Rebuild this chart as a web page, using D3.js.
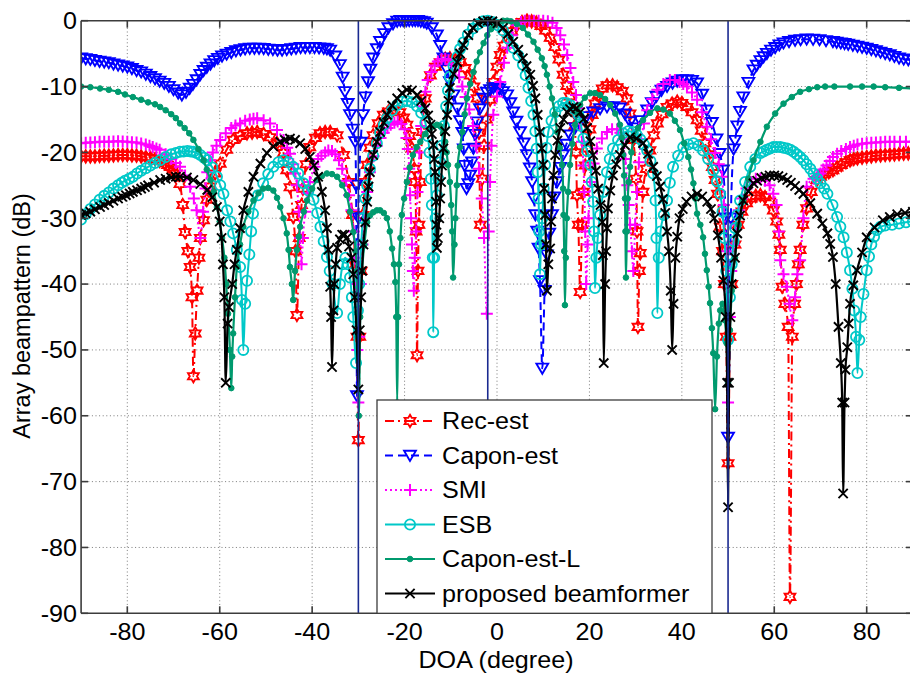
<!DOCTYPE html>
<html><head><meta charset="utf-8">
<script src="https://cdn.jsdelivr.net/npm/d3@7"></script>
<style>body{margin:0;background:#fff}svg{display:block}text{font-family:"Liberation Sans",Arial,sans-serif;fill:#000}</style>
</head><body><svg id="c" width="910" height="677"></svg>
<script>
const xTicks=[-80,-60,-40,-20,0,20,40,60,80];
const yTicks=[0,-10,-20,-30,-40,-50,-60,-70,-80,-90];
const nullLines=[-30,-2,50];
const legendNames=["Rec-est","Capon-est","SMI","ESB","Capon-est-L","proposed beamformer"];

const recEst=[[-90,-20.6],[-89,-20.6],[-88,-20.6],[-87,-20.6],[-86,-20.55],[-85,-20.5],[-84,-20.5],[-83,-20.45],[-82,-20.4],[-81,-20.4],[-80,-20.4],[-79,-20.45],[-78,-20.5],[-77,-20.6],[-76,-20.7],[-75,-20.85],[-74,-21],[-73,-21.3],[-72,-21.6],[-71.3,-21.9],[-70.7,-22.2],[-70.1,-22.6],[-69.5,-23.2],[-68.6,-24.8],[-68,-28],[-67.5,-32.1],[-66.9,-35],[-66.4,-37.4],[-66,-42],[-65.7,-54],[-65.3,-47.5],[-64.9,-41],[-64.5,-36],[-64.2,-33],[-63.5,-30.3],[-62.8,-27.2],[-62,-25.2],[-61,-23.2],[-59.9,-21.7],[-58.5,-19.6],[-57.1,-18.1],[-55.6,-17.5],[-54.1,-17.1],[-53,-17],[-51.9,-16.9],[-50.5,-17.2],[-49.1,-17.7],[-47.6,-18.6],[-46.2,-20.1],[-45.5,-22.7],[-44.8,-25.3],[-44.1,-29.8],[-43.6,-35],[-43.3,-44.7],[-42.8,-33],[-42.3,-28],[-42,-25.5],[-41.3,-21.8],[-40.5,-19.2],[-39.3,-17.8],[-38.3,-17.1],[-37.2,-16.9],[-36.1,-16.9],[-34.6,-17.4],[-33.2,-20.4],[-32.1,-24.5],[-31.3,-29.5],[-30.7,-37.1],[-30.3,-48],[-30,-63.7],[-29.7,-48],[-29.4,-38],[-29,-29.5],[-28.5,-24.5],[-28.1,-21.9],[-27.5,-19.3],[-26.8,-17.4],[-25.7,-15.6],[-24.6,-14.3],[-23.5,-13.8],[-22.5,-13.6],[-21,-13.9],[-20.2,-14.7],[-19.5,-15.8],[-18.9,-17.5],[-18.4,-19.4],[-17.9,-22.5],[-17.7,-24.5],[-17.5,-32],[-17.3,-50.8],[-17.1,-38],[-16.9,-31],[-16.6,-24.5],[-16.2,-16.9],[-15.5,-11.8],[-14.4,-8.3],[-13.3,-7],[-12.3,-6.3],[-11.2,-5.8],[-10.2,-5.7],[-9.1,-5.9],[-8,-6.3],[-6.9,-7.2],[-5.8,-8.3],[-5,-10],[-4.3,-11.8],[-3.9,-17],[-3.6,-31],[-3.2,-24],[-2.8,-19],[-2.3,-15],[-1.5,-12],[-0.8,-9.3],[0,-7],[0.7,-5.2],[1.5,-3.8],[2.2,-2.7],[3.2,-1.6],[4.3,-0.7],[5.4,-0.2],[6.5,0],[7.5,-0.1],[8.5,-0.3],[9.5,-0.8],[10.5,-1.5],[11.5,-2.6],[12.5,-4],[13.4,-5.9],[14.3,-8.2],[15.1,-9.9],[15.8,-11.5],[16.4,-13.6],[16.8,-16],[17.1,-20],[17.3,-26.5],[17.6,-31],[18,-41.2],[18.4,-31],[18.7,-26],[19.1,-22],[19.5,-19.4],[20.1,-16.5],[20.6,-14.3],[21.2,-12.6],[21.9,-11.3],[22.8,-10.3],[23.8,-9.8],[25,-9.8],[26,-10.1],[27.1,-10.7],[28.1,-11.8],[28.8,-14.1],[29.5,-18.1],[30.1,-24],[30.3,-32],[30.5,-46.5],[30.8,-38],[31,-35.3],[31.6,-26],[32.3,-22.5],[33.1,-19.7],[33.9,-17.4],[34.7,-15.6],[35.7,-14.2],[36.8,-13.1],[37.9,-12.6],[39,-12.3],[40,-12.5],[41.1,-13.1],[42.2,-13.9],[43.3,-15.1],[44.2,-16.7],[45,-18.6],[45.8,-20.3],[46.6,-22.2],[47.2,-24.2],[47.7,-26.3],[48.3,-31.3],[48.8,-35],[49.2,-40],[49.6,-48],[50,-67.2],[50.4,-48],[50.8,-40],[51.5,-34],[52.2,-31],[53,-29],[54,-27.7],[55,-27],[56,-26.6],[57,-26.5],[58,-26.8],[59,-27.5],[59.8,-28.8],[60.5,-30.5],[61,-32.5],[61.3,-34.8],[61.7,-40.4],[62.3,-43],[63,-46.5],[63.4,-87.5],[63.9,-48],[64.4,-43],[64.8,-40],[65.2,-37],[65.6,-34.8],[66.2,-31],[67,-28.5],[68,-26],[69.2,-24.2],[70,-23.7],[70.9,-23.3],[71.8,-23],[72.7,-22.7],[73.6,-22.3],[74.5,-21.9],[75.5,-21.5],[76.4,-21.2],[77.2,-21],[78,-20.9],[79,-20.8],[80,-20.7],[81,-20.6],[82,-20.5],[83,-20.45],[84,-20.4],[85,-20.35],[86,-20.3],[87,-20.25],[88,-20.2],[89,-20.15],[90,-20.1]];

const caponEst=[[-90,-5.7],[-89,-5.8],[-88,-5.9],[-87,-6.05],[-86,-6.2],[-85,-6.3],[-84,-6.4],[-83,-6.6],[-82,-6.75],[-81,-6.9],[-80,-7.05],[-79,-7.3],[-78,-7.6],[-77,-7.8],[-76,-8.15],[-75,-8.5],[-74,-8.85],[-73,-9.2],[-72,-9.55],[-71,-10],[-70,-10.5],[-69,-11],[-68.2,-11.3],[-67.3,-10.9],[-66.5,-10.3],[-65.8,-9.7],[-65,-9],[-64.2,-8.2],[-63.5,-7.6],[-62.8,-7.1],[-62,-6.6],[-61.2,-6.1],[-60.4,-5.75],[-59.5,-5.4],[-58.5,-5.1],[-57.5,-4.85],[-56.5,-4.6],[-55.5,-4.45],[-54.5,-4.3],[-53.5,-4.2],[-52.5,-4.2],[-51.5,-4.2],[-50.5,-4.25],[-49.5,-4.35],[-48.5,-4.4],[-47.5,-4.5],[-46.5,-4.5],[-45.5,-4.4],[-44.5,-4.3],[-43.5,-4.2],[-42.5,-4.1],[-41.5,-4.1],[-40.5,-4.1],[-39.5,-4.1],[-38.5,-4.15],[-37.5,-4.2],[-36.8,-4.3],[-36.1,-4.5],[-35,-5.4],[-34,-6.7],[-33.4,-8.6],[-32.9,-10.8],[-32.3,-12.6],[-31.8,-14.3],[-31.2,-16.5],[-30.7,-18.4],[-30.5,-25],[-30.3,-57],[-30,-30],[-29.5,-18.5],[-29,-14.3],[-28.5,-11.6],[-27.9,-9.3],[-27.4,-7.4],[-26.8,-5.7],[-26,-4.3],[-25.3,-3.2],[-24.4,-2],[-23.5,-1.1],[-22.5,-0.5],[-21.6,-0.1],[-20.9,0],[-20.3,0],[-19.6,0],[-19,0],[-18.3,0],[-17.7,0],[-17.1,0],[-16.5,-0.1],[-15.8,-0.2],[-15.2,-0.4],[-14.1,-1.1],[-13,-2.2],[-12.3,-3.8],[-11.6,-5.7],[-10.9,-7.4],[-10.2,-9.3],[-9.4,-11.3],[-8.6,-13.3],[-8,-15.2],[-7.5,-17],[-7.2,-19.5],[-7,-22],[-6.6,-25.5],[-6.2,-24.8],[-5.8,-23.5],[-5.4,-21.5],[-5.1,-19.4],[-4.7,-17.3],[-4.3,-15.4],[-3.7,-13.4],[-3,-11.8],[-2.2,-10.9],[-1.5,-10.5],[-0.8,-10.2],[0,-10.2],[0.5,-10.4],[1.3,-10.8],[2.2,-11.3],[2.9,-12.5],[3.5,-13.9],[4.2,-15.3],[5,-16.9],[5.8,-18.6],[6.5,-20.4],[7.1,-22.4],[7.6,-24.5],[8,-27],[8.3,-29.5],[8.7,-32],[9,-34.6],[9.3,-39.5],[9.8,-52.8],[10.3,-41],[10.8,-35.6],[11.3,-32.3],[11.9,-29.5],[12.4,-26.8],[13,-24.5],[13.7,-22.3],[14.3,-20.4],[15,-18.8],[15.8,-17.4],[16.9,-16.3],[18,-15.4],[19.4,-14.6],[20.8,-13.9],[22.3,-13.4],[23.8,-13.1],[25.2,-13.1],[26.6,-13.3],[27.7,-14.2],[28.8,-15.4],[29.9,-16.3],[31,-15.2],[32.5,-13.6],[33.5,-12.5],[34.5,-11.5],[35.6,-10.6],[36.8,-10],[38,-9.5],[39,-9.2],[40,-9],[41.1,-9],[42.2,-9.1],[43.3,-9.5],[44.4,-11.2],[45.4,-13.6],[46.5,-15.5],[47.5,-18],[48.2,-20.2],[48.9,-22.7],[49.5,-30],[50,-63.3],[50.6,-30],[51.2,-19.5],[51.5,-18.2],[52,-16],[52.6,-13.8],[53.3,-11.6],[54.4,-9.4],[55.5,-7.5],[56.2,-6.8],[57,-6.1],[57.7,-5.5],[58.4,-5],[59.3,-4.5],[60.2,-4.1],[61.1,-3.7],[62,-3.4],[63.2,-3.2],[64.5,-3],[65.7,-2.9],[67,-2.8],[68.4,-2.85],[69.8,-2.9],[71.2,-3.05],[72.7,-3.2],[73.5,-3.3],[74.4,-3.4],[75.2,-3.5],[76,-3.6],[77,-3.75],[78,-3.9],[79,-4.05],[80,-4.2],[81,-4.4],[82,-4.6],[83,-4.8],[84,-5],[85,-5.2],[86,-5.45],[87,-5.7],[88,-5.85],[89,-5.95],[90,-6]];

const smi=[[-90,-18.6],[-89,-18.55],[-88,-18.5],[-87,-18.45],[-86,-18.4],[-85,-18.4],[-84,-18.4],[-83,-18.35],[-82,-18.3],[-81,-18.35],[-80,-18.4],[-79,-18.45],[-78,-18.5],[-77,-18.65],[-76,-18.8],[-75.2,-19],[-74.5,-19.2],[-73.7,-19.4],[-73,-19.6],[-71.7,-20.3],[-70.5,-21],[-69.5,-21.6],[-68.6,-22.2],[-67.5,-23.5],[-66.4,-25.2],[-65.6,-27],[-65,-28.8],[-64.2,-33],[-63.6,-29],[-63.1,-25.5],[-62.7,-23],[-62.1,-21.2],[-61.5,-20],[-60.7,-19],[-59.9,-18.1],[-58.7,-17.1],[-57.5,-16.3],[-56.6,-15.9],[-55.6,-15.6],[-54.5,-15.2],[-53.5,-15],[-52.7,-14.9],[-51.9,-14.8],[-50.5,-15.1],[-49.1,-15.6],[-47.6,-16.6],[-46.2,-18.1],[-45.4,-19.3],[-44.8,-20.2],[-44.1,-21.8],[-43.7,-23.2],[-43.3,-25],[-42.9,-29],[-42.6,-33],[-42.3,-37],[-42,-33],[-41.5,-29],[-41,-26.2],[-40.5,-24.5],[-39.5,-22.2],[-38.7,-21],[-38,-20.5],[-37.2,-20],[-36.5,-19.7],[-35.7,-19.8],[-35,-20.3],[-34.2,-21.2],[-33.5,-22.5],[-32.7,-24.3],[-32,-26.5],[-31.5,-28.8],[-31,-32],[-30.7,-36],[-30.5,-40],[-30.2,-50],[-30,-58],[-29.8,-48],[-29.5,-40],[-29.1,-34],[-28.7,-30],[-28.1,-26],[-27.5,-23],[-26.7,-20.6],[-26,-19],[-25.2,-17.8],[-24.5,-17],[-23.7,-16.3],[-23,-15.8],[-22.2,-15.5],[-21.5,-15.3],[-20.7,-15.7],[-20,-16.5],[-19.6,-17.8],[-19.3,-19.5],[-19,-22.5],[-18.8,-26.5],[-18.6,-30],[-18.4,-34],[-18.2,-38],[-18,-41],[-17.8,-36],[-17.5,-32],[-17.2,-26],[-16.8,-20],[-16.4,-16],[-16,-13],[-15.5,-10.8],[-15,-9],[-14.2,-7.8],[-13.5,-6.8],[-12.8,-6.2],[-12,-5.8],[-11.2,-5.8],[-10.5,-6],[-9.8,-6.6],[-9,-7.5],[-8.2,-8.6],[-7.5,-10],[-6.8,-11.6],[-6,-13.5],[-5.2,-16],[-4.5,-19],[-3.9,-22.5],[-3.3,-27],[-2.8,-33],[-2.2,-44.5],[-1.8,-32],[-1.5,-24.5],[-1.2,-19],[-0.8,-14.3],[0,-11.5],[0.7,-9.3],[1.5,-6.4],[2.2,-4.1],[3.2,-2.2],[4.3,-0.7],[5.2,-0.2],[6,0],[7,0],[8,0],[9,0],[10,0],[11,-0.1],[12,-0.3],[12.9,-1.1],[13.7,-2.2],[14.5,-3.6],[15.2,-5.2],[15.9,-7.2],[16.5,-9.3],[17.1,-11.3],[17.6,-13.3],[18,-15.7],[18.4,-18.4],[18.7,-22],[18.9,-26],[19.1,-32],[19.3,-40],[19.6,-34],[19.8,-30],[20.2,-24.5],[20.9,-21.7],[21.6,-19.4],[22.7,-17.9],[23.8,-16.9],[24.9,-16.5],[26,-16.5],[26.7,-17],[27.3,-18],[27.8,-21],[28.2,-25],[28.5,-28],[28.8,-31],[29.2,-35],[29.5,-38],[29.9,-31],[30.3,-26],[30.7,-21.5],[31.2,-18],[31.8,-15.6],[32.5,-13.6],[33.6,-11.9],[34.7,-10.5],[36,-9.6],[37.4,-9],[38.5,-9],[39.5,-9.3],[40.3,-9.6],[41.1,-10],[42.2,-10.9],[43.3,-12],[44.4,-13.9],[45.4,-16.1],[46.3,-18],[47.2,-20.1],[48,-21.8],[48.7,-23.7],[49.1,-28],[49.5,-35],[50,-58],[50.4,-45],[50.7,-38],[51.2,-34],[51.7,-31],[52.3,-28.8],[53,-27],[54,-25.5],[55,-24.5],[56,-24],[57,-24],[58,-24.3],[59,-25],[59.8,-26.3],[60.5,-28],[61,-32],[61.3,-36.4],[62,-38.5],[62.7,-40.4],[63.3,-43],[63.9,-45.5],[64.5,-42],[65,-38.5],[65.6,-36.4],[66.3,-30],[67,-25.2],[68.5,-24],[69.3,-23.6],[70,-23.2],[70.6,-22.6],[71.3,-22],[72,-21.3],[72.7,-20.7],[73.6,-20.2],[74.5,-19.8],[75.5,-19.5],[76.4,-19.2],[77.2,-19],[78,-18.8],[79,-18.7],[80,-18.6],[81,-18.55],[82,-18.5],[83,-18.45],[84,-18.4],[85,-18.4],[86,-18.4],[87.2,-18.4],[88.5,-18.4],[90,-18.4]];

const esb=[[-90,-30.2],[-89,-29.4],[-88,-28.6],[-87,-27.9],[-86,-27.2],[-85,-26.6],[-84,-26.1],[-83,-25.5],[-82,-25],[-81.2,-24.6],[-80.5,-24.3],[-79.6,-24],[-78.8,-23.7],[-77.9,-23.2],[-77,-22.8],[-76,-22.4],[-75,-22],[-74,-21.6],[-72.9,-21.2],[-71.7,-20.7],[-70.5,-20.3],[-69.5,-20.1],[-68.6,-19.9],[-67.8,-19.85],[-67,-19.8],[-66.3,-19.85],[-65.7,-19.9],[-65,-20.1],[-64.2,-20.4],[-63.4,-20.8],[-62.7,-21.2],[-61.6,-22.3],[-60.6,-23.7],[-59.9,-25],[-59.2,-26.3],[-58.4,-28.8],[-57.7,-30.5],[-57.1,-32.3],[-56.3,-34.8],[-55.6,-37.4],[-55.2,-42.4],[-54.9,-50],[-54.5,-43],[-54.1,-39.5],[-53.6,-35.5],[-53.2,-32],[-52.8,-29.3],[-51.7,-26.5],[-50.6,-24.7],[-49.5,-23.3],[-48.4,-22.2],[-47.3,-21.5],[-46.2,-21.2],[-45.1,-21.5],[-44.1,-22.2],[-43,-23.2],[-41.9,-24.7],[-40.8,-25.8],[-39.7,-27.2],[-38.9,-29.2],[-38.2,-31.3],[-37.5,-33.5],[-36.8,-35.9],[-36.2,-38],[-35.6,-40],[-34.6,-44.4],[-34,-40],[-33.4,-37],[-32.8,-36],[-32.3,-37],[-31.8,-39],[-31.4,-42],[-31.1,-45],[-30.5,-52],[-30.1,-44],[-29.8,-40],[-29.4,-34],[-29,-30],[-28.5,-27],[-28.1,-25],[-27.5,-22.5],[-26.8,-20.5],[-26,-18.6],[-25.3,-17],[-24.5,-15.8],[-23.8,-14.8],[-22.7,-13.6],[-21.6,-12.8],[-20.5,-12.3],[-19.5,-12.2],[-18.4,-12.4],[-17.3,-13],[-16.4,-14],[-15.5,-15.5],[-15,-17.5],[-14.6,-20],[-14.3,-24],[-14.1,-28],[-13.9,-36],[-13.8,-47.3],[-13.6,-36],[-13.3,-30],[-13,-26.5],[-12.7,-24],[-12.3,-21.5],[-12,-19],[-11.5,-16],[-11,-13],[-10.6,-10.6],[-10.2,-8.5],[-9.4,-6.9],[-8.6,-5.5],[-8,-4.3],[-7.3,-3.3],[-6.3,-2.1],[-5.2,-1.2],[-4.1,-0.5],[-3,-0.1],[-2,0],[-1,-0.2],[0.2,-0.7],[1.3,-1.5],[2.4,-2.7],[3.5,-4.1],[4.6,-5.3],[5.6,-6.7],[6.2,-8.3],[6.8,-10.2],[7.4,-12.2],[7.9,-14.3],[8.3,-16.8],[8.6,-19.4],[8.8,-23],[9,-27],[9.15,-32],[9.3,-38.5],[9.5,-34],[9.8,-30],[10.1,-25.5],[10.4,-21.9],[10.7,-19.3],[11.1,-16.9],[11.8,-15.2],[12.6,-13.9],[13.4,-13],[14.3,-12.5],[15,-12.5],[15.8,-12.8],[16.7,-13.4],[17.6,-14.3],[18.2,-16],[18.7,-17.9],[19.5,-19.8],[20.2,-21.9],[20.5,-24.5],[20.8,-27.5],[21,-32],[21.2,-40.6],[21.5,-36],[21.8,-33],[22.3,-29.5],[23,-26],[23.8,-23],[24.4,-21],[25.1,-19.4],[26.2,-18.1],[27.3,-17.1],[28.4,-16.8],[29.4,-16.9],[30.2,-17.3],[31,-18],[31.8,-18.8],[32.5,-19.7],[33.2,-21.3],[33.8,-23.2],[34.3,-27.3],[34.5,-33],[34.7,-44.4],[35,-36],[35.4,-32],[36.1,-29.5],[36.8,-27.3],[37.4,-24.6],[38.1,-22.2],[39.2,-20.5],[40.3,-19.2],[41.4,-18.8],[42.5,-18.6],[43.6,-19],[44.6,-19.7],[45.7,-21],[46.8,-22.7],[47.6,-24.4],[48.3,-26.3],[48.8,-29],[49.2,-33],[49.6,-38],[50,-48.5],[50.4,-42],[50.8,-37],[51.2,-33.5],[51.5,-31.5],[52,-29.5],[52.6,-27.3],[53.7,-24.5],[54.8,-22.2],[55.9,-21],[57,-20.1],[57.7,-19.85],[58.4,-19.6],[59.1,-19.4],[59.8,-19.2],[60.5,-19.2],[61.3,-19.2],[62,-19.3],[62.8,-19.4],[63.5,-19.6],[64.2,-19.9],[64.9,-20.3],[65.6,-20.7],[66.3,-21.2],[67,-21.8],[67.8,-22.5],[68.5,-23.2],[69.3,-24],[70,-24.7],[70.8,-25.5],[71.5,-26.3],[72.6,-28],[73.6,-29.8],[74.3,-31.3],[75,-32.9],[75.7,-35.2],[76.4,-37.9],[76.9,-40.7],[77.3,-44],[77.7,-48],[78,-53.5],[78.4,-48.5],[78.7,-45],[79.3,-41.5],[80,-37.9],[80.5,-35.8],[81,-34],[81.6,-32.8],[82.2,-31.8],[83,-31.3],[84,-31.1],[85.5,-31],[87,-30.8],[88.5,-30.6],[90,-30.5]];

const caponEstL=[[-90,-10],[-88,-10.1],[-85.9,-10.3],[-84,-10.5],[-82,-10.8],[-80.5,-11.2],[-78.8,-11.6],[-77,-12],[-75.5,-12.4],[-74,-12.7],[-72.9,-13.1],[-71.7,-13.6],[-70.5,-14.2],[-69.5,-14.8],[-68.6,-15.6],[-67.6,-16.3],[-66.6,-17.1],[-65.7,-18.1],[-64.6,-19.5],[-63.5,-21.2],[-62.8,-22.6],[-62,-24.2],[-61.3,-26],[-60.6,-28.3],[-60,-30.5],[-59.5,-33],[-59,-36],[-58.6,-40],[-58.2,-44.5],[-57.8,-50],[-57.5,-55.8],[-57.3,-51],[-57.1,-47.5],[-56.7,-42],[-56.3,-37.4],[-55.6,-34],[-54.9,-31.3],[-53.8,-29],[-52.7,-27.3],[-51.6,-26.2],[-50.6,-25.5],[-49.5,-25.4],[-48.4,-25.8],[-47.6,-26.9],[-46.9,-28.3],[-46.2,-30],[-45.5,-32.3],[-45.1,-34.8],[-44.8,-37.4],[-44.4,-40],[-44.1,-42.4],[-43.7,-38],[-43.3,-34.8],[-42.9,-32.8],[-42.6,-31.3],[-41.8,-29],[-41.1,-27.3],[-40,-25.5],[-39,-24.2],[-37.9,-23.6],[-36.8,-23.2],[-35.7,-23.3],[-34.6,-23.7],[-33.5,-25],[-32.5,-26.5],[-31.8,-29],[-31.1,-32.1],[-30.6,-35],[-30.3,-38],[-30.1,-48],[-29.9,-60],[-29.6,-45],[-29.2,-38],[-28.7,-34],[-28.1,-30.6],[-27.5,-29.6],[-26.8,-29.1],[-26,-28.8],[-25.3,-28.8],[-24.5,-29.2],[-23.8,-30],[-23.2,-32],[-22.7,-34.6],[-22.3,-37],[-22,-39.7],[-21.8,-45],[-21.6,-58],[-21.4,-45],[-21.2,-37],[-20.9,-33],[-20.6,-29.5],[-20.1,-27],[-19.5,-24.5],[-18.9,-22.3],[-18.2,-20.4],[-17.4,-19.2],[-16.6,-18.4],[-15.5,-17.2],[-14.4,-16.3],[-13.7,-16],[-13,-15.8],[-12.3,-16],[-11.7,-17.1],[-11.2,-18.4],[-10.9,-20],[-10.6,-21.9],[-10.2,-24.5],[-9.9,-28],[-9.7,-32],[-9.5,-39],[-9.2,-34],[-9,-30],[-8.7,-25],[-8.5,-22],[-8,-19.2],[-7.5,-16.9],[-7,-14.2],[-6.5,-11.8],[-5.8,-9.6],[-5.1,-7.8],[-4.4,-6.2],[-3.7,-4.8],[-2.9,-3.4],[-2.1,-2.2],[-1.3,-1.3],[-0.5,-0.7],[0.4,-0.3],[1.3,0],[2.2,0],[3,-0.1],[4.3,-0.5],[5.6,-1.1],[6.7,-2.1],[7.9,-3.2],[8.8,-4.4],[9.7,-5.7],[10.3,-6.9],[10.8,-8.2],[11.4,-10],[11.9,-11.8],[12.5,-14.2],[13,-16.9],[13.6,-19.3],[14.1,-21.9],[14.3,-25.5],[14.4,-29.5],[14.55,-35],[14.7,-43.2],[14.9,-36],[15.1,-30],[15.4,-26],[15.8,-21.9],[16.3,-18.7],[16.9,-15.8],[17.4,-14.1],[18,-12.8],[19,-11.7],[20.2,-11],[21.2,-11],[22.3,-11.3],[23.4,-11.9],[24.5,-12.8],[25.6,-14.1],[26.6,-15.8],[27,-17.8],[27.3,-20.4],[27.5,-23.5],[27.7,-27],[27.8,-32],[27.9,-39],[28.1,-32],[28.3,-27],[28.5,-24.5],[28.8,-22.2],[29.1,-20],[29.5,-18.1],[30.5,-16.3],[31.6,-15.1],[33.1,-14],[34.7,-13.3],[36,-13.5],[37.4,-14.1],[38.5,-15.2],[39.6,-16.6],[40.5,-18.6],[41.4,-20.7],[42,-22.6],[42.5,-24.7],[42.9,-27],[43.3,-29.3],[44,-31],[44.6,-32.9],[45,-35.4],[45.4,-37.9],[45.8,-40.4],[46.1,-42.9],[46.5,-46.7],[46.8,-50.5],[47.2,-59],[47.6,-51],[48,-46],[48.3,-44],[48.8,-43],[49.3,-45.5],[49.7,-49],[50,-55],[50.4,-47],[50.8,-41],[51.5,-36],[52.3,-31],[53.3,-27.3],[54.4,-24],[55.5,-21.2],[57,-18.4],[58.4,-16.1],[60.2,-14.1],[62,-12.6],[63.8,-11.6],[65.6,-10.8],[67.5,-10.4],[69.3,-10.1],[71,-10],[73,-10],[76.4,-10],[79,-10],[81.5,-10],[84,-10.1],[87,-10.2],[90,-10.3]];

const proposed=[[-90,-29.5],[-89,-29.25],[-88,-29],[-87,-28.65],[-85.9,-28.3],[-85,-28],[-84,-27.7],[-83,-27.35],[-82,-27],[-81.1,-26.75],[-80.3,-26.5],[-79.5,-26.25],[-78.8,-26],[-77.9,-25.75],[-77,-25.5],[-76.2,-25.25],[-75.5,-25],[-74.2,-24.6],[-72.9,-24.2],[-71.7,-24],[-70.5,-23.8],[-69.5,-23.7],[-68.6,-23.7],[-67.1,-23.8],[-65.7,-24.2],[-64.2,-24.8],[-62.7,-25.7],[-61.6,-26.8],[-60.6,-28.3],[-60,-30.5],[-59.6,-33],[-59.3,-37],[-59,-42],[-58.7,-55],[-58.3,-46],[-58,-43.5],[-57.3,-40],[-56.8,-37],[-56.3,-34.8],[-55.6,-31.5],[-54.9,-28.8],[-53.8,-26],[-52.7,-23.7],[-51.2,-21.7],[-49.8,-20.1],[-48.4,-19.1],[-46.9,-18.4],[-45.9,-18.1],[-44.8,-17.9],[-43.7,-18.1],[-42.6,-18.6],[-41.5,-19.5],[-40.5,-20.7],[-39.6,-22],[-38.7,-23.7],[-37.9,-26],[-37.2,-28.8],[-36.8,-31.5],[-36.5,-34.8],[-36.1,-40.4],[-35.9,-45],[-35.7,-52.6],[-35.4,-44],[-35.2,-40],[-34.9,-37],[-34.6,-34.5],[-34,-33.2],[-33.5,-32.5],[-33,-32.5],[-32.5,-33],[-32,-34.3],[-31.5,-36],[-31.1,-38.5],[-30.8,-42],[-30.4,-47],[-30,-56],[-29.7,-47],[-29.4,-42],[-29.2,-38],[-28.9,-34],[-28.5,-30.6],[-28.1,-27.5],[-27.8,-25.2],[-27.5,-23],[-26.8,-20.4],[-26,-18.4],[-25.3,-16.9],[-24.5,-15.5],[-23.8,-14.3],[-22.7,-12.9],[-21.6,-11.8],[-20.5,-11],[-19.5,-10.5],[-18.4,-10.6],[-17.3,-11.3],[-16.4,-12.2],[-15.5,-13.3],[-14.9,-14.4],[-14.4,-15.8],[-14.1,-17.2],[-13.8,-18.9],[-13.6,-21],[-13.4,-23],[-13.2,-27.5],[-13.1,-31],[-13,-34.5],[-12.8,-33],[-12.5,-30],[-12.3,-27],[-12.1,-24.5],[-11.9,-22],[-11.6,-19.4],[-11.2,-16.8],[-10.8,-14.3],[-10.5,-12.2],[-10.2,-10.2],[-9.4,-8.1],[-8.6,-6.3],[-8,-5],[-7.3,-3.7],[-6.2,-2.2],[-5.2,-1.1],[-4.1,-0.4],[-3,-0.1],[-2,0],[-1,-0.1],[0.1,-0.4],[1.3,-1.1],[2.4,-2],[3.5,-3.2],[4.6,-4.4],[5.6,-5.7],[6.4,-6.9],[7.2,-8.2],[7.8,-9.9],[8.3,-11.8],[8.8,-14.3],[9.3,-16.9],[9.7,-19.4],[10,-21.9],[10.2,-25.5],[10.4,-29.5],[10.6,-34],[10.8,-41],[11.1,-37],[11.5,-34.6],[11.7,-30.5],[11.9,-27],[12.2,-23.5],[12.6,-20.4],[13.1,-18.2],[13.7,-16.3],[14.4,-15],[15.2,-13.9],[15.8,-13.4],[16.5,-13.1],[17.2,-13.3],[18,-13.9],[18.8,-14.9],[19.5,-16.3],[20.2,-18.3],[20.8,-20.4],[21.4,-22.8],[21.9,-25.5],[22.4,-28],[22.8,-30.6],[22.9,-35.6],[23.1,-52],[23.4,-40],[23.6,-35],[23.8,-31.5],[24,-28.5],[24.5,-25.8],[25.1,-23.5],[25.8,-21.8],[26.6,-20.4],[27.7,-18.9],[28.8,-17.7],[30.2,-17.9],[31.6,-18.6],[32.7,-20.2],[33.8,-22.2],[34.6,-23.6],[35.3,-25.2],[35.9,-27.1],[36.4,-29.2],[36.8,-32],[37.2,-35],[37.6,-41],[37.9,-50],[38.2,-43],[38.6,-36],[39,-32.8],[39.5,-30],[40.2,-28.6],[41,-27.5],[42.1,-26.7],[43.3,-26.3],[44.4,-26.7],[45.5,-27.5],[46.3,-28.6],[47,-30],[47.8,-32.6],[48.5,-36],[49,-39.5],[49.5,-45],[49.8,-55],[50,-73.9],[50.2,-55],[50.5,-45],[50.8,-40],[51.5,-36],[52,-32.3],[52.6,-29.6],[53.3,-27.3],[54.4,-25.9],[55.5,-24.7],[56.3,-24.3],[57.2,-23.9],[58.1,-23.7],[59,-23.5],[60,-23.5],[60.9,-23.6],[61.8,-23.85],[62.8,-24.2],[63.6,-24.6],[64.5,-25.1],[65.4,-25.7],[66.3,-26.3],[67.8,-27.7],[69.3,-29.3],[70.4,-30.8],[71.5,-32.3],[72.1,-33.9],[72.7,-35.9],[73.3,-40],[73.9,-46.5],[74.4,-52],[74.7,-58],[74.9,-71.8],[75.2,-58],[75.4,-53],[75.8,-49.6],[76.1,-46],[76.4,-43],[77.1,-40.2],[77.9,-37.9],[79,-35.2],[80,-32.9],[81.7,-31.4],[83.5,-30.3],[85,-29.8],[86.6,-29.4],[88.3,-29.2],[90,-29]];

const svg=d3.select("#c");
const L=81.1,R=912.9,T=20.7,B=613.3;
const x=d3.scaleLinear().domain([-90,90]).range([L,R]);
const y=d3.scaleLinear().domain([-90,0]).range([B,T]);
const FS=23.5, SX=1.07;

svg.append("defs").append("clipPath").attr("id","pc").append("rect")
  .attr("x",L).attr("y",T-8).attr("width",R-L).attr("height",B-T+12);

const grid=svg.append("g").attr("stroke","#7a7a7a").attr("stroke-width",1).attr("stroke-dasharray","1,2.6");
xTicks.forEach(t=>grid.append("line").attr("x1",x(t)).attr("x2",x(t)).attr("y1",T).attr("y2",B));
yTicks.filter(t=>t>-90&&t<0).forEach(t=>grid.append("line").attr("x1",L).attr("x2",R).attr("y1",y(t)).attr("y2",y(t)));

function hexPath(r){const p=[];for(let i=0;i<12;i++){const a=-Math.PI/2+i*Math.PI/6;const rr=i%2===0?r:r*0.58;p.push([(rr*Math.cos(a)).toFixed(2),(rr*Math.sin(a)).toFixed(2)]);}return "M"+p.join("L")+"Z";}
const shapes={
  hex:hexPath(6.2),
  tri:"M0,5.4L-5.9,-4.7L5.9,-4.7Z",
  plus:"M-6,0H6M0,-6V6",
  circ:d3.symbol().type(d3.symbolCircle).size(Math.PI*5.1*5.1)(),
  dot:d3.symbol().type(d3.symbolCircle).size(Math.PI*2.8*2.8)(),
  cross:"M-4.6,-4.6L4.6,4.6M-4.6,4.6L4.6,-4.6"
};
const series=[
 {name:legendNames[0],data:recEst,color:"#ff0000",dash:"9,4,2,4",lw:2,marker:"hex",fill:"none",mw:1.9},
 {name:legendNames[1],data:caponEst,color:"#0000ff",dash:"8,5",lw:2,marker:"tri",fill:"none",mw:1.9},
 {name:legendNames[2],data:smi,color:"#ff00ff",dash:"2,3",lw:2,marker:"plus",fill:"none",mw:2},
 {name:legendNames[3],data:esb,color:"#00c8c8",dash:null,lw:2,marker:"circ",fill:"none",mw:1.8},
 {name:legendNames[4],data:caponEstL,color:"#009a6e",dash:null,lw:2.2,marker:"dot",fill:"#009a6e",mw:1},
 {name:legendNames[5],data:proposed,color:"#000000",dash:null,lw:2.2,marker:"cross",fill:"none",mw:1.9}
];
const line=d3.line().x(d=>x(d[0])).y(d=>y(d[1])).curve(d3.curveMonotoneX);
const plot=svg.append("g").attr("clip-path","url(#pc)");
series.forEach(s=>{
  const g=plot.append("g");
  g.append("path").attr("d",line(s.data)).attr("fill","none").attr("stroke",s.color)
   .attr("stroke-width",s.lw).attr("stroke-dasharray",s.dash).attr("stroke-linejoin","round");
  g.selectAll("path.m").data(s.data).join("path").attr("class","m")
   .attr("d",shapes[s.marker]).attr("transform",d=>`translate(${x(d[0])},${y(d[1])})`)
   .attr("fill",s.fill).attr("stroke",s.color).attr("stroke-width",s.mw);
});
nullLines.forEach(v=>svg.append("line").attr("x1",x(v)).attr("x2",x(v)).attr("y1",T).attr("y2",B)
  .attr("stroke","#1a2a90").attr("stroke-width",1.6));

const ax=svg.append("g").attr("stroke","#3c3c3c").attr("stroke-width",1.6).attr("fill","none");
ax.append("line").attr("x1",L).attr("x2",R).attr("y1",B).attr("y2",B);
ax.append("line").attr("x1",L).attr("x2",R).attr("y1",T).attr("y2",T);
ax.append("line").attr("x1",L).attr("x2",L).attr("y1",T).attr("y2",B);
ax.append("line").attr("x1",R).attr("x2",R).attr("y1",T).attr("y2",B);
xTicks.forEach(t=>{ax.append("line").attr("x1",x(t)).attr("x2",x(t)).attr("y1",B).attr("y2",B-7);
  ax.append("line").attr("x1",x(t)).attr("x2",x(t)).attr("y1",T).attr("y2",T+7);});
yTicks.forEach(t=>{ax.append("line").attr("x1",L).attr("x2",L+7).attr("y1",y(t)).attr("y2",y(t));
  ax.append("line").attr("x1",R).attr("x2",R-7).attr("y1",y(t)).attr("y2",y(t));});

function txt(px,py,s,anchor){return svg.append("text").attr("transform",`translate(${px},${py}) scale(${SX},1)`)
  .attr("text-anchor",anchor).attr("font-size",FS).text(s);}
xTicks.forEach(t=>txt(x(t),640,String(t),"middle"));
yTicks.forEach(t=>txt(77,y(t)+8.4,String(t),"end"));
txt(496,668,"DOA (degree)","middle");
svg.append("text").attr("transform",`translate(30,316) rotate(-90)`).attr("text-anchor","middle")
  .attr("font-size",FS).text("Array beampattern (dB)");

const lg=svg.append("g");
lg.append("rect").attr("x",377).attr("y",400).attr("width",335).attr("height",B-400)
  .attr("fill","#fff").attr("stroke","#3c3c3c").attr("stroke-width",1.3);
const ly0=421, ldy=34.5;
series.forEach((s,i)=>{
  const yy=ly0+i*ldy;
  lg.append("line").attr("x1",385).attr("x2",435).attr("y1",yy).attr("y2",yy).attr("stroke",s.color)
    .attr("stroke-width",s.lw).attr("stroke-dasharray",s.dash);
  lg.append("path").attr("d",shapes[s.marker]).attr("transform",`translate(410,${yy})`)
    .attr("fill",s.fill).attr("stroke",s.color).attr("stroke-width",s.mw);
  lg.append("text").attr("transform",`translate(442,${yy+8.4}) scale(${SX},1)`).attr("font-size",FS).text(s.name);
});
</script></body></html>
